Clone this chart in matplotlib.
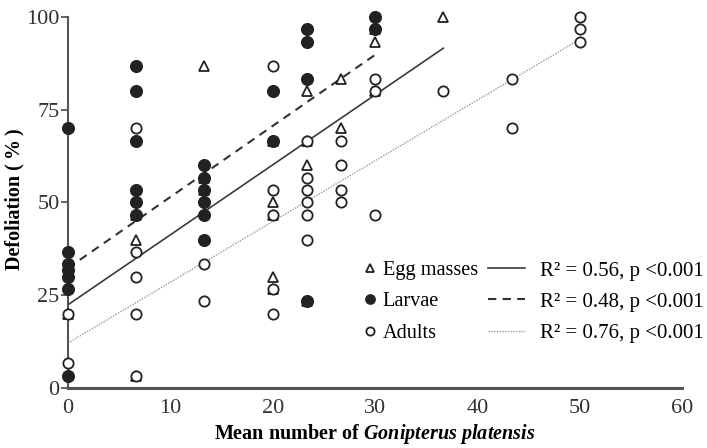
import numpy as np
import matplotlib.pyplot as plt

plt.rcParams['font.family'] = ['Liberation Serif', 'DejaVu Serif']
plt.rcParams['mathtext.fontset'] = 'custom'
plt.rcParams['mathtext.rm'] = 'Liberation Serif:bold'
plt.rcParams['mathtext.it'] = 'Liberation Serif:bold:italic'

# data
egg_x = [0, 6.67, 6.67, 6.67, 13.33, 13.33, 13.33, 20, 20, 20, 20, 20,
         23.33, 23.33, 23.33, 23.33, 26.67, 26.67, 30, 30, 30, 36.67]
egg_y = [20, 46.67, 40, 3.33, 86.67, 56.67, 53.33, 66.67, 50, 46.67, 30, 26.67,
         80, 66.67, 60, 23.33, 83.33, 70, 96.67, 93.33, 80, 100]

larvae_x = [0, 0, 0, 0, 0, 0, 0, 6.67, 6.67, 6.67, 6.67, 6.67, 6.67,
            13.33, 13.33, 13.33, 13.33, 13.33, 13.33, 20, 20,
            23.33, 23.33, 23.33, 23.33, 30, 30]
larvae_y = [70, 36.67, 33.33, 31.67, 30, 26.67, 3.33, 86.67, 80, 66.67, 53.33, 50, 46.67,
            60, 56.67, 53.33, 50, 46.67, 40, 80, 66.67,
            96.67, 93.33, 83.33, 23.33, 100, 96.67]

adult_x = [0, 0, 6.67, 6.67, 6.67, 6.67, 6.67, 13.33, 13.33,
           20, 20, 20, 20, 20, 23.33, 23.33, 23.33, 23.33, 23.33, 23.33,
           26.67, 26.67, 26.67, 26.67, 30, 30, 30, 36.67, 43.33, 43.33, 50, 50, 50]
adult_y = [20, 6.67, 70, 36.67, 30, 20, 3.33, 33.33, 23.33,
           86.67, 53.33, 46.67, 26.67, 20, 66.67, 56.67, 53.33, 50, 46.67, 40,
           66.67, 60, 53.33, 50, 83.33, 80, 46.67, 80, 83.33, 70, 100, 96.67, 93.33]

# regression line end points
egg_fit_x, egg_fit_y = [0, 36.67], [22.4, 91.6]
larvae_fit_x, larvae_fit_y = [0, 30], [32.3, 89.8]
adult_fit_x, adult_fit_y = [0, 50], [12.1, 94.0]

group_labels = ['Egg masses', 'Larvae', 'Adults']
fit_labels = ['R\u00b2 = 0.56, p <0.001', 'R\u00b2 = 0.48, p <0.001', 'R\u00b2 = 0.76, p <0.001']

fig = plt.figure(figsize=(7.07, 4.48), dpi=100)
ax = fig.add_axes([0.096, 0.134, 0.869, 0.828])

ink = '#222222'
l_egg, = ax.plot(egg_fit_x, egg_fit_y, color='#3a3a3a', lw=1.2, ls='-', zorder=2)
l_lar, = ax.plot(larvae_fit_x, larvae_fit_y, color='#333333', lw=1.5, ls=(0, (4, 3)), zorder=2)
l_adu, = ax.plot(adult_fit_x, adult_fit_y, color='#9a9a9a', lw=1.0, ls=(0, (1, 1)), zorder=2)

m_egg, = ax.plot(egg_x, egg_y, ls='none', marker='^', ms=7.8, mfc='white', mec=ink,
                 mew=1.3, clip_on=False, zorder=3)
m_lar, = ax.plot(larvae_x, larvae_y, ls='none', marker='o', ms=8.4, mfc=ink, mec=ink,
                 mew=1.0, clip_on=False, zorder=4)
m_adu, = ax.plot(adult_x, adult_y, ls='none', marker='o', ms=7.4, mfc='white', mec=ink,
                 mew=1.3, clip_on=False, zorder=5)

ax.set_xlim(0, 60)
ax.set_ylim(0, 100)
ax.set_xticks(np.arange(0, 61, 10))
ax.set_yticks([0, 25, 50, 75, 100])
for s in ['top', 'right']:
    ax.spines[s].set_visible(False)
ax.spines['left'].set_color('#555555')
ax.spines['left'].set_linewidth(1.5)
ax.spines['bottom'].set_color('#555555')
ax.spines['bottom'].set_linewidth(2.2)
ax.tick_params(axis='y', length=5, width=1.3, color='#555555', pad=1,
               labelsize=16, labelcolor='#333333')
ax.tick_params(axis='x', length=0, pad=8, labelsize=16, labelcolor='#333333')

ax.set_ylabel('Defoliation (\u2009%\u2009)', fontsize=14.5, fontweight='bold')
ax.yaxis.set_label_coords(-0.071, 0.51)
ax.set_xlabel(r'Mean number of $\mathit{Gonipterus\ platensis}$', fontsize=14.5,
              fontweight='bold', labelpad=3)

leg1 = ax.legend([m_egg, m_lar, m_adu], group_labels, loc='upper left',
                 bbox_to_anchor=(0.466, 0.37), frameon=False, fontsize=14.6,
                 handlelength=0.6, handletextpad=0.3, labelspacing=0.6,
                 borderpad=0, markerscale=0.8)
ax.add_artist(leg1)
ax.legend([l_egg, l_lar, l_adu], fit_labels, loc='upper left',
          bbox_to_anchor=(0.667, 0.37), frameon=False, fontsize=15,
          handlelength=1.75, handletextpad=0.75, labelspacing=0.55, borderpad=0)

fig.savefig('out.png', dpi=100)
